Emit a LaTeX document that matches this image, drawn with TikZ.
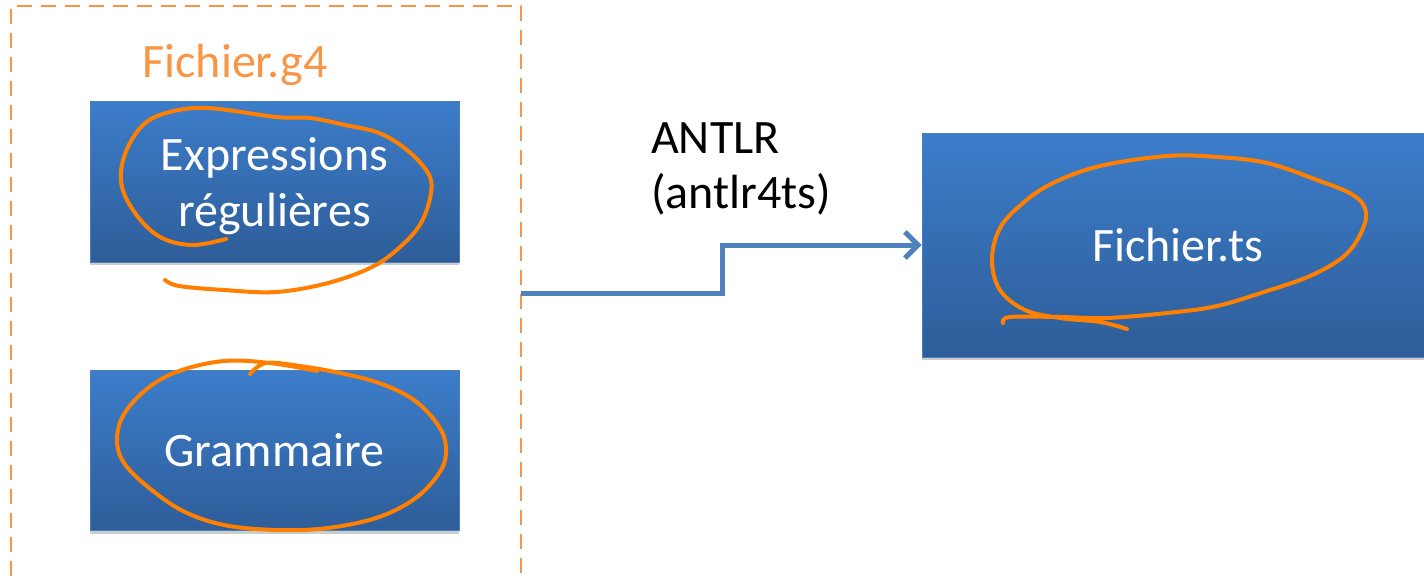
\documentclass[tikz,border=0pt]{standalone}
\usepackage{fontspec}
\setmainfont{Carlito}
\usetikzlibrary{positioning,calc,arrows.meta,shadows}
\definecolor{boxtop}{HTML}{3C7DCA}
\definecolor{boxbot}{HTML}{2E5D99}
\definecolor{boxline}{HTML}{4A7EBB}
\definecolor{flowblue}{HTML}{4F81BD}
\definecolor{dashorange}{HTML}{F79646}
\definecolor{penorange}{HTML}{FF8000}
\tikzset{
	bluebox/.style={rectangle,inner sep=0pt,top color=boxtop,bottom color=boxbot,draw=boxline,line width=1pt,
		text=white,align=center,font=\fontsize{48}{56}\selectfont,
		drop shadow={shadow xshift=0pt,shadow yshift=-3pt,opacity=0.2,fill=black}},
	lbl/.style={inner sep=0pt,font=\fontsize{48}{56}\selectfont},
	flow/.style={draw=flowblue,line width=5pt,-{Straight Barb[length=13pt,width=26pt]}},
	pen/.style={draw=penorange,line width=4pt,line cap=round,line join=round},
	filebox/.style={draw=dashorange,line width=2.5pt,dash pattern=on 15pt off 9pt}
}

\begin{document}
\begin{tikzpicture}[x=1pt,y=-1pt]
		\clip (0,0) rectangle (1424,581);
		% g4 file container
		\draw[filebox] (11,600) -- (11,6) -- (521,6) -- (521,600);
		\node[lbl,text=dashorange,anchor=base] (g4) at (235,77) {Fichier.g4};
		\node[bluebox,minimum width=369pt,minimum height=161pt] (regex) at (274.5,181.5) {\raisebox{-6pt}[\height][\depth]{\begin{tabular}{@{}c@{}}Expressions\\régulières\end{tabular}}};
		\node[bluebox,minimum width=369pt,minimum height=160pt] (gram) at (274.5,450.5) {Grammaire};
		\node[bluebox,minimum width=512pt,minimum height=224pt] (ts) at (1178,245) {Fichier.ts};
		% generation step
		\coordinate (src) at (521,293);
		\draw[flow] (src) -- ++(201,0) |- (ts.west);
		\node[lbl,anchor=base west] (antlr) at (651,153) {ANTLR};
		\node[lbl,anchor=base west] (tool) at ([yshift=-55pt]antlr.base west) {(antlr4ts)};
		% hand drawn circles
		\draw[pen] plot[smooth,tension=.6] coordinates {(226,239) (193,245) (162,238) (138,217) (122,187) (124,157) (141,127) (166,113) (207,108) (276,117) (310,118) (345,125) (379,133) (407,150) (428,173) (431,193) (421,223) (400,247) (372,267) (328,283) (276,292) (224,290) (179,286) (165,280)};
		\draw[pen] plot[smooth,tension=.6] coordinates {(317,371) (270,363) (224,361) (179,371) (148,388) (124,414) (117,440) (124,463) (148,487) (183,511) (224,525) (276,530) (328,528) (379,517) (417,497) (441,470) (446,447) (438,425) (414,400) (379,383) (340,373) (300,366) (266,363) (250,374)};
		\draw[pen] plot[smooth,tension=.6] coordinates {(1003,323) (1010,317) (1060,317) (1107,318) (1167,313) (1217,306) (1267,291) (1310,276) (1343,257) (1360,235) (1366,212) (1353,195) (1317,180) (1267,163) (1217,157) (1167,156) (1100,166) (1053,183) (1023,203) (1000,228) (992,260) (1000,290) (1025,310) (1060,318) (1100,322) (1127,329)};
	\end{tikzpicture}
\end{document}
